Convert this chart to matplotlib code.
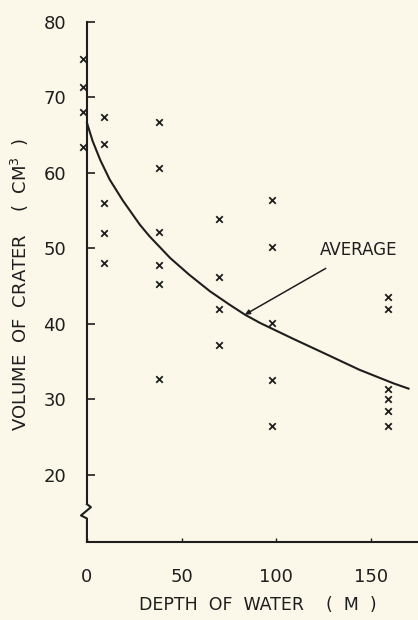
import matplotlib
matplotlib.use("Agg")
import matplotlib.pyplot as plt

# crater volume (cm^3) measured at each water depth (m)
depths = [-2, 9, 38, 70, 98, 159]
volumes = [
    [75.0, 71.4, 68.0, 63.4],
    [67.4, 63.8, 56.0, 52.0, 48.0],
    [66.7, 60.6, 52.2, 47.8, 45.2, 32.7],
    [53.9, 46.2, 41.9, 37.2],
    [56.4, 50.2, 40.1, 32.6, 26.5],
    [43.6, 41.9, 31.3, 30.0, 28.4, 26.5],
]

# hand-drawn average curve
avg_depth = [0, 3, 7, 12, 19, 28, 33, 44, 54, 65, 75.5, 83.5, 91.5, 109, 127, 144, 162, 170]
avg_vol = [66.6, 64.2, 61.7, 59.1, 56.3, 53.1, 51.6, 48.7, 46.5, 44.3, 42.5, 41.2,
           40.1, 38.0, 35.9, 33.9, 32.1, 31.4]

x_ticks = [0, 50, 100, 150]
y_ticks = [20, 30, 40, 50, 60, 70, 80]

bg = "#fbf8e9"
ink = "#1e1e1e"
plt.rcParams["font.family"] = "DejaVu Sans"

fig = plt.figure(figsize=(4.18, 6.2), dpi=100, facecolor=bg)
ax = fig.add_axes([0.208, 0.126, 0.792, 0.839])
ax.set_facecolor(bg)

for d, vals in zip(depths, volumes):
    ax.scatter([d] * len(vals), vals, marker="x", s=22, color=ink,
               linewidths=1.3, clip_on=False, zorder=3)

ax.plot(avg_depth, avg_vol, color=ink, lw=1.5, clip_on=False,
        solid_joinstyle="round")

ax.annotate("AVERAGE", xy=(83.5, 41.2), xytext=(123, 49.8),
            fontsize=12, color=ink, va="center", ha="left",
            arrowprops=dict(arrowstyle="-|>", color=ink, lw=1.1,
                            mutation_scale=7, shrinkA=10, shrinkB=0))

ax.set_xlim(0, 175)
ax.set_ylim(11.1, 80)
ax.set_xticks(x_ticks)
ax.set_yticks(y_ticks)
ax.tick_params(axis="y", direction="in", length=6, width=1.2, pad=15,
               labelsize=13, colors=ink)
ax.tick_params(axis="x", direction="in", length=3, width=1.0, pad=19,
               labelsize=13, colors=ink)

for s in ["top", "right", "left"]:
    ax.spines[s].set_visible(False)
ax.spines["bottom"].set_linewidth(1.5)
ax.spines["bottom"].set_color(ink)

# y axis drawn by hand so it can carry the break mark
tr = ax.get_yaxis_transform()
ax.plot([0, 0], [80, 16.1], color=ink, lw=1.5, transform=tr, clip_on=False)
ax.plot([0, 0.012, -0.018, 0, 0], [16.1, 15.7, 14.6, 14.2, 11.1],
        color=ink, lw=1.5, transform=tr, clip_on=False)

fig.text(20 / 418, 1 - 284 / 620, "VOLUME  OF  CRATER    (  CM$^3$  )",
         rotation=90, ha="center", va="center", fontsize=13, color=ink)
fig.text(258 / 418, 1 - 605 / 620, "DEPTH  OF  WATER    (  M  )",
         ha="center", va="center", fontsize=12.5, color=ink)

fig.savefig("out.png", dpi=100, facecolor=bg)
